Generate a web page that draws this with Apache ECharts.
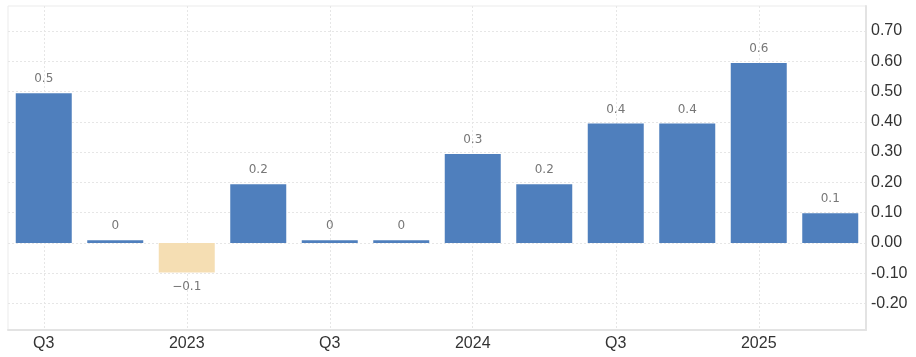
<!DOCTYPE html>
<html><head><meta charset="utf-8">
<script src="https://cdn.jsdelivr.net/npm/echarts@6/dist/echarts.min.js"></script>
<style>html,body{margin:0;padding:0;background:#fff}#c{width:916px;height:357px}</style>
</head><body><div id="c"></div>
<script>
const categories = ["Q3","Q4","2023","Q2","Q3","Q4","2024","Q2","Q3","Q4","2025","Q2"];
const values = [0.494, 0.009, -0.097, 0.194, 0.009, 0.009, 0.294, 0.194, 0.394, 0.394, 0.594, 0.098];
const yTicks = [-0.2, -0.1, 0, 0.1, 0.2, 0.3, 0.4, 0.5, 0.6, 0.7];

const chart = echarts.init(document.getElementById('c'), null, {renderer: 'canvas'});
chart.setOption({
  animation: false,
  grid: {left: 8, right: 50, top: 6, bottom: 27, show: true, borderColor: '#ebebeb', borderWidth: 1, containLabel: false},
  xAxis: {
    type: 'category', data: categories, boundaryGap: true,
    axisLine: {show: true, onZero: false, lineStyle: {color: '#e3e3e3', width: 2}},
    axisTick: {show: false, alignWithLabel: true, interval: 1},
    axisLabel: {interval: 1, color: '#333', fontSize: 16, fontFamily: 'Liberation Sans, Arial, sans-serif', margin: 6},
    splitLine: {show: true, interval: 1, alignWithLabel: true, lineStyle: {color: '#e6e6e6', type: [2, 2]}}
  },
  yAxis: {
    type: 'value', position: 'right', min: -0.287, max: 0.782,
    axisLine: {show: true, lineStyle: {color: '#e3e3e3', width: 2}},
    axisTick: {show: false, customValues: yTicks},
    axisLabel: {customValues: yTicks, color: '#333', fontSize: 16, fontFamily: 'Liberation Sans, Arial, sans-serif', margin: 5,
      formatter: v => v.toFixed(2)},
    splitLine: {show: true, lineStyle: {color: '#e6e6e6', type: [2, 2]}}
  },
  series: [{
    type: 'bar', data: values.map(v => ({value: v, itemStyle: {color: v < 0 ? '#f5deb3' : '#4f7fbd'}})),
    barWidth: 56,
    label: {show: true, position: 'outside', distance: 8, color: '#777', fontSize: 12,
      fontFamily: 'DejaVu Sans, sans-serif',
      formatter: p => { const r = Math.round(p.value * 10) / 10; return r === 0 ? '0' : (r < 0 ? '\u2212' + Math.abs(r) : String(r)); }}
  }]
});
</script></body></html>
